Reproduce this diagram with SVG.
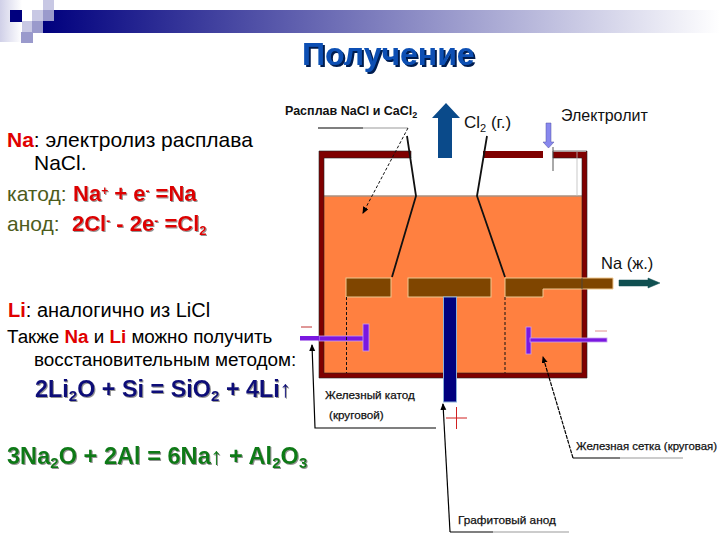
<svg xmlns="http://www.w3.org/2000/svg" width="720" height="540" viewBox="0 0 720 540">
<style>
text{font-family:"Liberation Sans",Arial,sans-serif;}
.body{font-size:21px;fill:#000}
.red{fill:#e00000;font-weight:bold}
.olive{fill:#4d5c1c}
.eq{font-weight:bold;font-size:22px;fill:#dd0000;filter:url(#sh)}
.blueq{font-weight:bold;font-size:23.4px;fill:#0a0a78;filter:url(#sh)}
.greeq{font-weight:bold;font-size:23.6px;fill:#0f7a18;filter:url(#sh)}
.dlab{font-size:12.5px;font-weight:bold;fill:#111}
.nlab{font-size:11.7px;fill:#111;stroke:#111;stroke-width:.25}
.plab{font-size:16.5px;fill:#111}
.wire{fill:none;stroke:#000;stroke-width:1.2}
.grey{fill:none;stroke:#999;stroke-width:1.2}
.thick{fill:none;stroke:#111;stroke-width:1.8}
.dash{fill:none;stroke:#111;stroke-width:1;stroke-dasharray:3 2}
.plate{fill:#7f4500;stroke:#f0c890;stroke-width:1}
.iron{fill:#7a18e0;stroke:#c9a0f0;stroke-width:.8}
</style>
<defs>
<linearGradient id="band" x1="0" x2="1" y1="0" y2="0"><stop offset="0" stop-color="#00007e"/><stop offset="1" stop-color="#ffffff"/></linearGradient>
<linearGradient id="side" x1="0" x2="1" y1="0" y2="0"><stop offset="0" stop-color="#d0d0e8"/><stop offset="1" stop-color="#ffffff"/></linearGradient>
<filter id="sh" x="-5%" y="-20%" width="110%" height="140%"><feDropShadow dx="1" dy="1" stdDeviation="0.4" flood-color="#777" flood-opacity=".8"/></filter>
<filter id="tsh" x="-5%" y="-20%" width="110%" height="140%"><feDropShadow dx="2" dy="2" stdDeviation="0.2" flood-color="#001a50"/></filter>
<marker id="ah" markerWidth="8" markerHeight="8" refX="6" refY="3" orient="auto" markerUnits="userSpaceOnUse"><path d="M0,0L7,3L0,6Z" fill="#000"/></marker>
</defs>

<g id="header">
<rect x="0" y="0" width="22" height="42" fill="url(#side)"/>
<rect x="43" y="10" width="677" height="23" fill="url(#band)"/>
<rect x="43" y="0" width="11" height="10" fill="#c8c8e4"/>
<rect x="10" y="10" width="12" height="12" fill="#00007e"/>
<rect x="22" y="10" width="10" height="12" fill="#fff"/>
<rect x="32" y="10" width="11" height="11" fill="#c8c8e4"/>
<rect x="43" y="10" width="11" height="11" fill="#9a9acc"/>
<rect x="22" y="21" width="10" height="11" fill="#c8c8e4"/>
<rect x="32" y="21" width="11" height="12" fill="#9a9acc"/>
<rect x="21" y="32" width="12" height="11" fill="#9a9acc"/>
<text x="302" y="65" font-size="32" font-weight="bold" fill="#0a50b4" filter="url(#tsh)">Получение</text>
</g>

<g id="text-left">
<text x="7" y="147" class="body"><tspan class="red">Na</tspan>: электролиз расплава</text>
<text x="34" y="170" class="body">NaCl.</text>
<text x="7" y="201" class="body olive">катод:</text>
<text x="73" y="201" class="eq">Na<tspan font-size="12" dy="-6">+</tspan><tspan dy="6"> + e</tspan><tspan font-size="12" dy="-6">-</tspan><tspan dy="6"> =Na</tspan></text>
<text x="7" y="231" class="body olive">анод:</text>
<text x="72" y="231" class="eq">2Cl<tspan font-size="12" dy="-6">-</tspan><tspan dy="6"> - 2e</tspan><tspan font-size="12" dy="-6">-</tspan><tspan dy="6"> =Cl</tspan><tspan font-size="13" dy="4">2</tspan></text>
<text x="8" y="317" class="body" style="font-size:20px"><tspan class="red">Li</tspan>: аналогично из LiCl</text>
<text x="7" y="343" class="body" style="font-size:18.8px">Также <tspan class="red">Na</tspan> и <tspan class="red">Li</tspan> можно получить</text>
<text x="34" y="366" class="body" style="font-size:18.9px">восстановительным методом:</text>
<text x="35" y="397" class="blueq">2Li<tspan font-size="15" dy="4">2</tspan><tspan dy="-4">O + Si = SiO</tspan><tspan font-size="15" dy="4">2</tspan><tspan dy="-4"> + 4Li↑</tspan></text>
<text x="7" y="464" class="greeq">3Na<tspan font-size="15" dy="4">2</tspan><tspan dy="-4">O + 2Al = 6Na↑ + Al</tspan><tspan font-size="15" dy="4">2</tspan><tspan dy="-4">O</tspan><tspan font-size="15" dy="4">3</tspan></text>
</g>

<g id="vessel">
<rect x="324" y="196" width="258" height="177" fill="#ff8040"/>
<line x1="324" y1="196" x2="582" y2="196" stroke="#a89080" stroke-width="1.5"/>
<path d="M319,151H411V158H324V373H582V158H553V151H587V378H319Z" fill="#7f0000" stroke="#222" stroke-width=".6"/>
<path d="M483,151H543V158H483Z" fill="#7f0000"/>
<path d="M553,151.500H586M577,152V196" fill="none" stroke="#bbb" stroke-width=".8"/>
</g>

<g id="plates">
<rect x="346" y="278" width="45" height="19" class="plate"/>
<rect x="408" y="278" width="83" height="19" class="plate"/>
<path d="M505,278H613V289H543V297H505Z" class="plate"/>
<path d="M582,278V289" stroke="#444" stroke-width=".8" fill="none"/>
<rect x="443.500" y="297" width="13" height="105" fill="#00007e" stroke="#8ab0d8" stroke-width="1"/>
</g>

<g id="electrodes">
<rect x="319" y="336" width="45" height="5" class="iron"/>
<rect x="300" y="336" width="19" height="4.500" fill="#7a18e0"/>
<rect x="363" y="324" width="6" height="27" class="iron"/>
<rect x="526" y="327" width="5" height="27" class="iron"/>
<rect x="530" y="338" width="77" height="4" class="iron"/>
<path d="M301,327H312" stroke="#c03030" stroke-width="1" fill="none"/>
<path d="M595,331H607" stroke="#e09090" stroke-width="1" fill="none"/>
<path d="M446,418H467M456.500,407V429" stroke="#d02020" stroke-width="1" fill="none"/>
</g>

<g id="connectors">
<path d="M318,128H363" class="wire"/>
<path d="M363,128H408" class="grey"/>
<path d="M408,128L363,213" class="dash" stroke-dasharray="3 1.500" marker-end="url(#ah)"/>
<path d="M407,136L416,196L392,277" class="thick"/>
<path d="M487,136L477,196L505,277" class="thick"/>
<path d="M346.500,297V373M505,297V373" class="dash"/>
<path d="M553,147V171" stroke="#555" stroke-width="1" fill="none"/>
<path d="M436,428H315L312,345" class="wire" marker-end="url(#ah)"/>
<path d="M450,532H493" class="wire"/>
<path d="M493,532H569" class="grey"/>
<path d="M450,532L443,404" class="wire" marker-end="url(#ah)"/>
<path d="M573,458H620" class="wire"/>
<path d="M620,458H683" class="grey"/>
<path d="M573,458L543,357" class="wire" stroke-dasharray="4 1" marker-end="url(#ah)"/>
</g>

<g id="arrows">
<path d="M438,158V118H432L446,103L460,118H452V158Z" fill="#0a4a8a"/>
<path d="M546,123H551V142H554L548.500,148L543,142H546Z" fill="#8888ee" stroke="#5050a0" stroke-width=".5"/>
<path d="M619,280H648V278L660,283L648,288V286H619Z" fill="#0f4f50" stroke="#0f4f50" stroke-width=".5"/>
</g>

<g id="labels">
<text x="285" y="115" class="dlab">Расплав NaCl и CaCl<tspan font-size="9" dy="3">2</tspan></text>
<text x="464" y="128" class="plab" style="font-size:17px">Cl<tspan font-size="11" dy="4">2</tspan><tspan dy="-4"> (г.)</tspan></text>
<text x="561" y="121" class="plab" style="font-size:16px">Электролит</text>
<text x="601" y="269" class="plab">Na (ж.)</text>
<text x="325" y="399" class="nlab">Железный катод</text>
<text x="329" y="419" class="nlab">(круговой)</text>
<text x="576" y="450" class="nlab" style="font-size:11.4px">Железная сетка (круговая)</text>
<text x="458" y="524" class="nlab" style="font-size:11.8px">Графитовый анод</text>
</g>
</svg>
